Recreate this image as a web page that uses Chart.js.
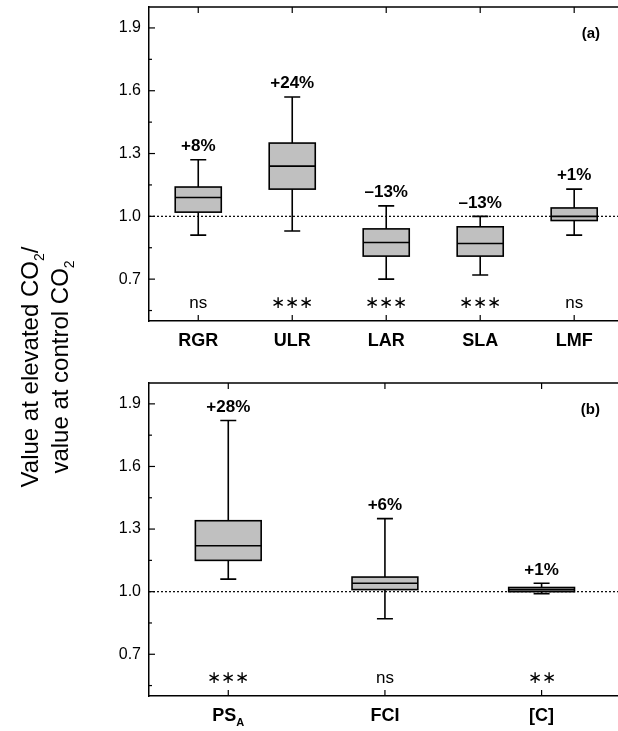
<!DOCTYPE html>
<html><head><meta charset="utf-8">
<script src="https://cdn.jsdelivr.net/npm/chart.js@4"></script>
<style>
body{margin:0;background:#fff;font-family:Arial,"Liberation Sans",sans-serif}
#wrap{position:relative;width:618px;height:731px;overflow:hidden}
canvas{position:absolute;left:0}
#ytitle{position:absolute;left:-165px;top:337px;width:420px;text-align:center;transform:rotate(-90deg);font-size:24px;line-height:30px;color:#000}
#ytitle sub{font-size:14px;line-height:0}
</style></head><body>
<div id="wrap">
<canvas id="topChart" style="top:0" width="624" height="360"></canvas>
<canvas id="botChart" style="top:360px" width="624" height="371"></canvas>
<div id="ytitle">Value at elevated CO<sub>2</sub>/<br>value at control CO<sub>2</sub></div>
</div>
<script>
// panel (a)
var topLabels = ['RGR', 'ULR', 'LAR', 'SLA', 'LMF'];
var topMin = [0.91, 0.93, 0.70, 0.72, 0.91];
var topQ1 = [1.02, 1.13, 0.81, 0.81, 0.98];
var topMed = [1.09, 1.24, 0.875, 0.87, 1.00];
var topQ3 = [1.14, 1.35, 0.94, 0.95, 1.04];
var topMax = [1.27, 1.57, 1.05, 1.00, 1.13];
var topPct = ['+8%', '+24%', '\u201313%', '\u201313%', '+1%'];
var topSig = ['ns', '\u2217\u2217\u2217', '\u2217\u2217\u2217', '\u2217\u2217\u2217', 'ns'];

// panel (b)
var botLabels = ['PS|A', 'FCI', '[C]'];
var botMin = [1.06, 0.87, 0.99];
var botQ1 = [1.15, 1.01, 1.00];
var botMed = [1.22, 1.04, 1.01];
var botQ3 = [1.34, 1.07, 1.02];
var botMax = [1.82, 1.35, 1.04];
var botPct = ['+28%', '+6%', '+1%'];
var botSig = ['\u2217\u2217\u2217', 'ns', '\u2217\u2217'];

var yTicks = [0.7, 1.0, 1.3, 1.6, 1.9];
var yMinor = [0.55, 0.85, 1.15, 1.45, 1.75];

var FONT = 'Arial, "Liberation Sans", sans-serif';

function boxPlugin(labels, mn, q1, md, q3, mx, pct, sig, boxW, panel) {
    return {
        id: 'boxes',
        afterDraw: function (chart) {
            var c = chart.ctx, xs = chart.scales.x, ys = chart.scales.y, a = chart.chartArea;
            c.save();
            c.strokeStyle = '#000'; c.fillStyle = '#000';
            // frame top/right
            c.lineWidth = 1.5;
            c.beginPath(); c.moveTo(a.left, a.top); c.lineTo(a.right, a.top); c.lineTo(a.right, a.bottom); c.stroke();
            // y ticks (inward) and labels
            c.lineWidth = 1.2;
            c.font = '16px ' + FONT; c.textAlign = 'right'; c.textBaseline = 'middle';
            yTicks.forEach(function (v) {
                var y = ys.getPixelForValue(v);
                c.beginPath(); c.moveTo(a.left, y); c.lineTo(a.left + 6, y); c.stroke();
                c.fillText(v.toFixed(1), a.left - 8, y);
            });
            yMinor.forEach(function (v) {
                var y = ys.getPixelForValue(v);
                c.beginPath(); c.moveTo(a.left, y); c.lineTo(a.left + 3, y); c.stroke();
            });
            // dotted reference line at 1.0
            c.lineWidth = 1.2; c.setLineDash([2, 2]);
            c.beginPath(); c.moveTo(a.left, ys.getPixelForValue(1)); c.lineTo(a.right, ys.getPixelForValue(1)); c.stroke();
            c.setLineDash([]);
            c.lineWidth = 1.6;
            for (var i = 0; i < labels.length; i++) {
                var x = xs.getPixelForValue(i + 1);
                var hw = (xs.getPixelForValue(i + 1 + boxW / 2) - x);
                var cw = 8;
                var pMin = ys.getPixelForValue(mn[i]), pMax = ys.getPixelForValue(mx[i]);
                var p1 = ys.getPixelForValue(q1[i]), p3 = ys.getPixelForValue(q3[i]), pm = ys.getPixelForValue(md[i]);
                // x ticks inward top and bottom
                c.lineWidth = 1.2;
                c.beginPath(); c.moveTo(x, a.bottom); c.lineTo(x, a.bottom - 6); c.moveTo(x, a.top); c.lineTo(x, a.top + 6); c.stroke();
                c.lineWidth = 1.6;
                c.beginPath();
                c.moveTo(x, pMin); c.lineTo(x, p1); c.moveTo(x, p3); c.lineTo(x, pMax);
                c.moveTo(x - cw, pMin); c.lineTo(x + cw, pMin); c.moveTo(x - cw, pMax); c.lineTo(x + cw, pMax);
                c.stroke();
                c.fillStyle = '#c0c0c0';
                c.fillRect(x - hw, p3, 2 * hw, p1 - p3);
                c.strokeRect(x - hw, p3, 2 * hw, p1 - p3);
                c.beginPath(); c.moveTo(x - hw, pm); c.lineTo(x + hw, pm); c.stroke();
                c.fillStyle = '#000'; c.textAlign = 'center';
                c.font = 'bold 17px ' + FONT; c.textBaseline = 'bottom';
                c.fillText(pct[i], x, pMax - 5);
                c.font = '17px ' + FONT; c.textBaseline = 'middle';
                c.fillText(sig[i], x, ys.getPixelForValue(0.585));
                // category label, with optional subscript after '|'
                var parts = labels[i].split('|');
                c.font = 'bold 18px ' + FONT; c.textBaseline = 'top';
                var w0 = c.measureText(parts[0]).width;
                var w1 = 0;
                if (parts[1]) { c.font = 'bold 11px ' + FONT; w1 = c.measureText(parts[1]).width; }
                var lx = x - (w0 + w1) / 2, ly = a.bottom + 11;
                c.textAlign = 'left';
                c.font = 'bold 18px ' + FONT;
                c.fillText(parts[0], lx, ly);
                if (parts[1]) { c.font = 'bold 11px ' + FONT; c.fillText(parts[1], lx + w0, ly + 10); }
            }
            c.font = 'bold 15px ' + FONT; c.textAlign = 'right'; c.textBaseline = 'top';
            c.fillText(panel, a.right - 24, a.top + 19);
            c.restore();
        }
    };
}

function makeChart(ctx, xmin, xmax, padTop, padBottom, plugin) {
    return new Chart(ctx, {
        type: 'scatter',
        data: { datasets: [{ data: [], pointRadius: 0 }] },
        options: {
            responsive: false, animation: false,
            layout: { padding: { top: padTop, bottom: padBottom, right: 0, left: 0 } },
            plugins: { legend: { display: false }, tooltip: { enabled: false } },
            scales: {
                x: {
                    type: 'linear', min: xmin, max: xmax,
                    afterBuildTicks: function (s) { s.ticks = []; },
                    afterFit: function (s) { s.height = 0; },
                    grid: { display: false, drawTicks: false },
                    border: { color: '#000', width: 1.5 },
                    ticks: { display: false }
                },
                y: {
                    min: 0.5, max: 2.0,
                    afterBuildTicks: function (s) { s.ticks = []; },
                    afterFit: function (s) { s.width = 149; },
                    grid: { display: false, drawTicks: false },
                    border: { color: '#000', width: 1.5 },
                    ticks: { display: false }
                }
            }
        },
        plugins: [plugin]
    });
}

makeChart(document.getElementById('topChart'), 0.476, 5.53, 7, 39,
    boxPlugin(topLabels, topMin, topQ1, topMed, topQ3, topMax, topPct, topSig, 0.49, '(a)'));
makeChart(document.getElementById('botChart'), 0.494, 3.526, 23, 35,
    boxPlugin(botLabels, botMin, botQ1, botMed, botQ3, botMax, botPct, botSig, 0.42, '(b)'));
</script>
</body></html>
